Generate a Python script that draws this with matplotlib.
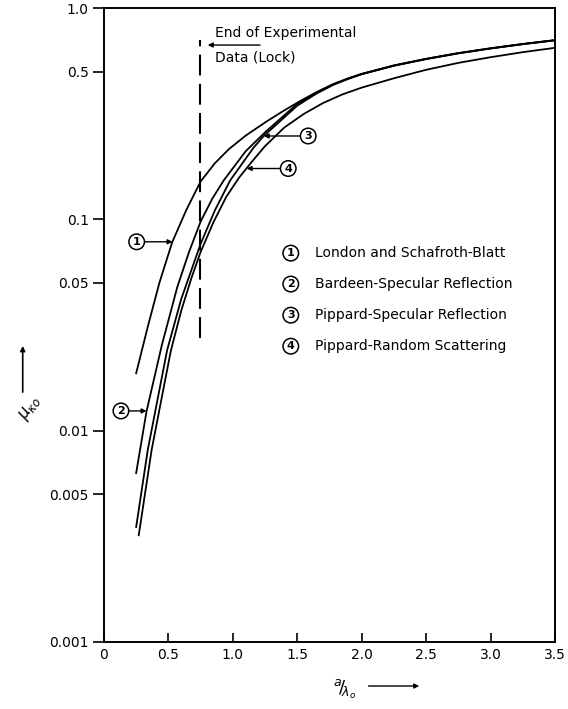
from matplotlib import pyplot as plt
from matplotlib.patches import FancyArrowPatch
from matplotlib.ticker import FixedLocator, NullLocator

plt.rcParams['font.family'] = 'DejaVu Sans'

# curves (a/lambda_o, value)
x_london = [0.25, 0.34, 0.43, 0.53, 0.64, 0.75, 0.86, 0.97, 1.1, 1.26, 1.4, 1.52, 1.65,
            1.78, 1.9, 2.0, 2.25, 2.5, 2.75, 3.0, 3.25, 3.5]
y_london = [0.0187, 0.031, 0.050, 0.078, 0.111, 0.151, 0.184, 0.215, 0.249, 0.29, 0.328, 0.362, 0.40,
            0.437, 0.466, 0.488, 0.535, 0.575, 0.612, 0.645, 0.676, 0.705]

x_bardeen = [0.25, 0.33, 0.45, 0.57, 0.66, 0.75, 0.84, 0.93, 1.1, 1.25, 1.5, 1.65,
             1.78, 1.9, 2.0, 2.25, 2.5, 2.75, 3.0, 3.25, 3.5]
y_bardeen = [0.0063, 0.0123, 0.0255, 0.048, 0.070, 0.0975, 0.125, 0.153, 0.21, 0.258, 0.352, 0.397,
             0.435, 0.464, 0.487, 0.534, 0.574, 0.611, 0.644, 0.675, 0.704]

x_pip_spec = [0.25, 0.34, 0.49, 0.60, 0.75, 0.86, 0.98, 1.16, 1.24, 1.5, 1.65,
              1.78, 1.9, 2.0, 2.25, 2.5, 2.75, 3.0, 3.25, 3.5]
y_pip_spec = [0.0035, 0.0081, 0.024, 0.042, 0.0765, 0.11, 0.153, 0.218, 0.248, 0.345, 0.394,
              0.433, 0.463, 0.486, 0.533, 0.573, 0.610, 0.643, 0.674, 0.703]

x_pip_rand = [0.27, 0.37, 0.45, 0.52, 0.60, 0.68, 0.75, 0.85, 0.95, 1.05, 1.15, 1.25, 1.4,
              1.55, 1.7, 1.85, 2.0, 2.25, 2.5, 2.75, 3.0, 3.25, 3.5]
y_pip_rand = [0.0032, 0.0081, 0.0145, 0.024, 0.037, 0.053, 0.070, 0.097, 0.128, 0.158, 0.188, 0.222, 0.272,
              0.315, 0.355, 0.39, 0.42, 0.465, 0.51, 0.55, 0.585, 0.618, 0.648]

legend_labels = ['London and Schafroth-Blatt', 'Bardeen-Specular Reflection',
                 'Pippard-Specular Reflection', 'Pippard-Random Scattering']

xticks = [0, 0.5, 1.0, 1.5, 2.0, 2.5, 3.0, 3.5]
xticklabels = ['0', '0.5', '1.0', '1.5', '2.0', '2.5', '3.0', '3.5']
yticks = [0.001, 0.005, 0.01, 0.05, 0.1, 0.5, 1.0]
yticklabels = ['0.001', '0.005', '0.01', '0.05', '0.1', '0.5', '1.0']

exp_end = 0.745

fig = plt.figure(figsize=(5.68, 7.09), dpi=100)
ax = fig.add_axes([0.183, 0.0945, 0.794, 0.8942])

for xs, ys in [(x_london, y_london), (x_bardeen, y_bardeen),
               (x_pip_spec, y_pip_spec), (x_pip_rand, y_pip_rand)]:
    ax.plot(xs, ys, color='black', lw=1.3)

ax.set_yscale('log')
ax.set_xlim(0, 3.5)
ax.set_ylim(0.001, 1.0)
ax.yaxis.set_major_locator(FixedLocator(yticks))
ax.yaxis.set_minor_locator(NullLocator())
ax.set_yticklabels(yticklabels)
ax.set_xticks(xticks)
ax.set_xticklabels(xticklabels)
ax.tick_params(axis='y', direction='out', length=8, width=1.2, pad=3, labelsize=10)
ax.tick_params(axis='x', direction='in', length=6.5, width=1.2, pad=4, labelsize=10)
for s in ax.spines.values():
    s.set_linewidth(1.4)

# end of experimental data
ax.plot([exp_end, exp_end], [0.0274, 0.706], color='black', lw=1.5, dashes=(10, 4))
ax.annotate('', xy=(0.784, 0.668), xytext=(1.233, 0.668),
            arrowprops=dict(arrowstyle='-|>', color='black', lw=1, mutation_scale=7))
ax.text(0.861, 0.762, 'End of Experimental', fontsize=10, va='center', ha='left')
ax.text(0.861, 0.586, 'Data (Lock)', fontsize=10, va='center', ha='left')

circ = dict(boxstyle='circle,pad=0.25', fc='white', ec='black', lw=1.1)

# curve tags
tags = [('1', (0.254, 0.0783), (0.533, 0.0783)),
        ('2', (0.132, 0.0124), (0.331, 0.0124)),
        ('3', (1.585, 0.248), (1.24, 0.248)),
        ('4', (1.43, 0.174), (1.107, 0.174))]
for num, pos, tip in tags:
    ax.annotate(num, xy=tip, xytext=pos, fontsize=8, fontweight='bold',
                ha='center', va='center', bbox=circ,
                arrowprops=dict(arrowstyle='-|>', color='black', lw=1,
                                mutation_scale=7, shrinkA=0, shrinkB=0))

# key
key_y = [0.0692, 0.0494, 0.0352, 0.0251]
for i, (lab, yy) in enumerate(zip(legend_labels, key_y)):
    ax.text(1.45, yy, str(i + 1), fontsize=8, fontweight='bold',
            ha='center', va='center', bbox=circ)
    ax.text(1.637, yy, lab, fontsize=10, ha='left', va='center')

# axis labels with arrows
fig.text(0.053, 0.425, r'$\mu_{\kappa o}$', fontsize=12, rotation=55,
         ha='center', va='center')
fig.patches.append(FancyArrowPatch(
    (0.04, 0.443), (0.04, 0.516), transform=fig.transFigure,
    arrowstyle='-|>', mutation_scale=7, color='black', lw=1.2))
fig.text(0.607, 0.027, r'$^{a}\!/\!_{\lambda_o}$', fontsize=13,
         ha='center', va='center')
fig.patches.append(FancyArrowPatch(
    (0.644, 0.0324), (0.743, 0.0324), transform=fig.transFigure,
    arrowstyle='-|>', mutation_scale=7, color='black', lw=1))

fig.savefig('out.png', dpi=100)
